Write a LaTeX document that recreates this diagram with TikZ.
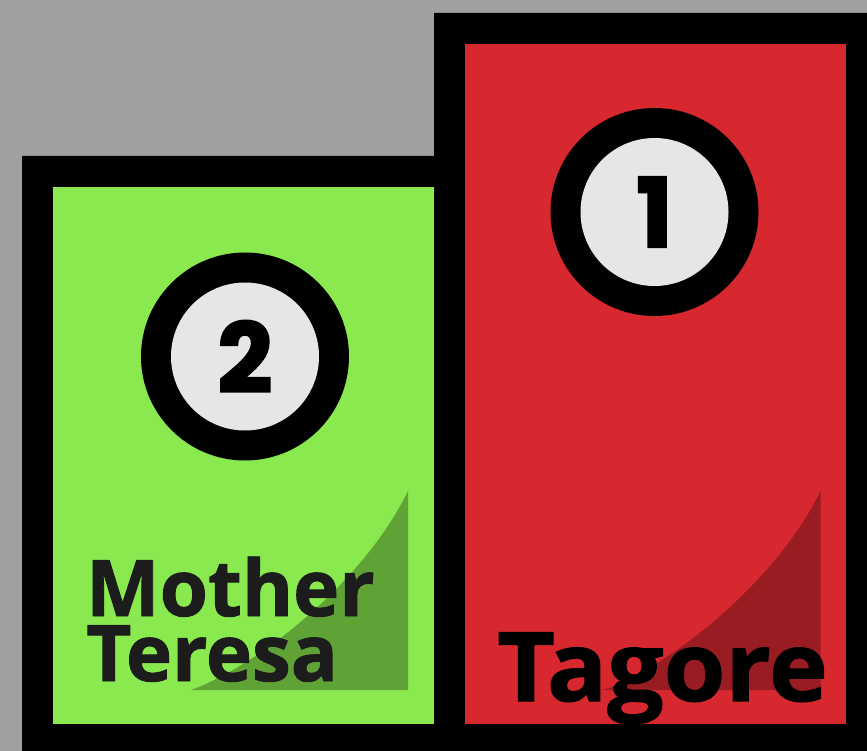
\documentclass[tikz,border=0pt]{standalone}
\usepackage{fontspec}
\setmainfont{Open Sans}[BoldFeatures={FakeBold=1.2}]
\newfontfamily\digitfont{Poppins}[BoldFeatures={FakeBold=2.5}]
\definecolor{bggray}{HTML}{A0A0A0}
\definecolor{podgreen}{HTML}{89E94F}
\definecolor{podred}{HTML}{D72830}
\definecolor{shadegreen}{HTML}{5FA236}
\definecolor{shadered}{HTML}{981C21}
\definecolor{discgray}{HTML}{E6E6E6}
\definecolor{namegray}{HTML}{1C1C1C}
\tikzset{
  ring/.style={circle, fill=black, minimum size=208pt, inner sep=0pt},
  disc/.style={circle, fill=discgray, minimum size=148pt, inner sep=0pt,
    font=\digitfont\bfseries\fontsize{96}{96}\selectfont},
  namelabel/.style={anchor=base west, inner sep=0pt, text=namegray,
    font=\bfseries\fontsize{78}{65}\selectfont}
}
\begin{document}
\begin{tikzpicture}[x=1pt,y=-1pt]
\useasboundingbox (0,0) rectangle (867,751);
\fill[bggray] (0,0) rectangle (867,751);
% black frames
\fill[black] (22,751) -- (22,156) -- (434,156) -- (434,13) -- (867,13) -- (867,751) -- cycle;
% inner panels
\fill[podgreen] (53,187) rectangle (434,724);
\fill[podred] (465,44) rectangle (846,724);
% shading wedges
\fill[shadegreen] (191,690) .. controls (260,665) and (365,580) .. (408,491) -- (408,690) -- cycle;
\begin{scope}[xshift=412.5pt]
\fill[shadered] (191,690) .. controls (260,665) and (365,580) .. (408,491) -- (408,690) -- cycle;
\end{scope}
% rank badges
\node[ring] (ring2) at (245,356.5) {};
\node[disc] (disc2) at (ring2.center) {\raisebox{-0.31em}{2}};
\node[ring] (ring1) at (654.5,212) {};
\node[disc] (disc1) at (ring1.center) {\raisebox{-0.31em}{1}};
% names
\node[namelabel] (second1) at (86,616) {Mother};
\node[namelabel] (second2) at (86,681) {Teresa};
\node[anchor=base west, inner sep=0pt, font=\bfseries\fontsize{96}{96}\selectfont] (first) at (497,701) {\scalebox{1.04}[1]{Tagore}};
\end{tikzpicture}
\end{document}
